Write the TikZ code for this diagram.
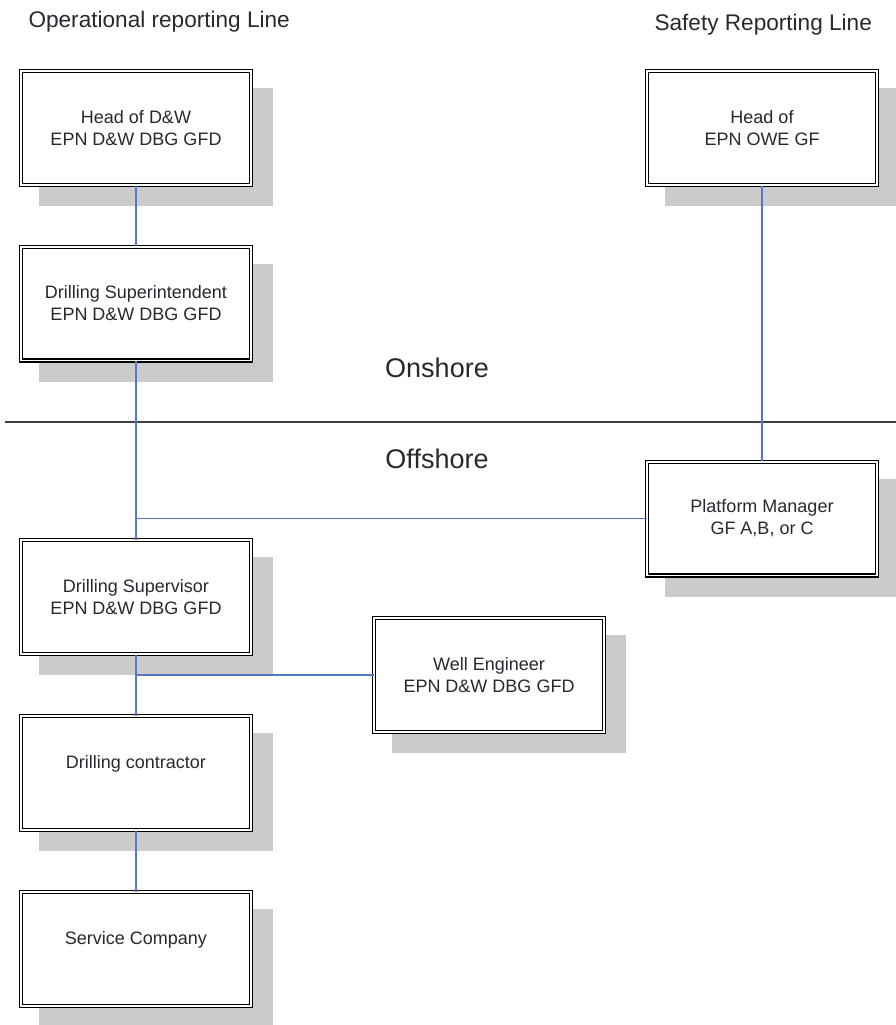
\documentclass[tikz,border=0pt]{standalone}
\usepackage{fontspec}
\setmainfont{Liberation Sans}
\usetikzlibrary{calc,shadows}
\definecolor{linkblue}{RGB}{84,122,196}
\definecolor{shadowgray}{RGB}{203,203,203}
\definecolor{textgray}{RGB}{40,40,48}
\def\orgfont{\fontsize{18}{22}\selectfont}
\def\titlefont{\fontsize{22.6}{27}\selectfont}
\def\zonefont{\fontsize{27}{32}\selectfont}
\tikzset{
	orgbox/.style={draw=black, line width=1.4pt, double=white, double distance=1.6pt, fill=white,
		minimum width=229.6pt, minimum height=113.6pt, inner sep=0pt, align=center,
		font=\orgfont, text=textgray,
		general shadow={fill=shadowgray, draw=shadowgray, line width=4.4pt, shadow xshift=19.5pt, shadow yshift=-19pt}},
	link/.style={draw=linkblue, line width=1.3pt},
	zonelabel/.style={anchor=base, font=\zonefont, text=textgray},
	linetitle/.style={anchor=base west, font=\titlefont, text=textgray}
}

\begin{document}
\begin{tikzpicture}[x=1pt, y=-1pt]
		%%%%% START %%%%%
		\useasboundingbox (0, 0) rectangle (896, 1025);
		
		\node[linetitle] (optitle) at (25, 28) {Operational reporting Line};
		\node[linetitle] (safetitle) at (651, 31) {Safety Reporting Line};
		
		\node[orgbox] (head) at (136, 128) {Head of D\&W\\EPN D\&W DBG GFD};
		\node[orgbox] (safety) at (762, 128) {Head of\\EPN OWE GF};
		\node[orgbox] (supt) at (136, 303.5) {Drilling Superintendent\\EPN D\&W DBG GFD};
		
		\node[zonelabel] (onshore) at (437, 377) {Onshore};
		\draw[line width=2pt, color=black!75] (5, 422) coordinate (sepleft) -- (896, 422) coordinate (sepright);
		\node[zonelabel] (offshore) at (437, 468) {Offshore};
		
		\node[orgbox] (platform) at (762, 518.5) {Platform Manager\\GF A,B, or C};
		\node[orgbox] (sup) at (136, 597) {Drilling Supervisor\\EPN D\&W DBG GFD};
		\node[orgbox] (well) at (489, 675) {Well Engineer\\EPN D\&W DBG GFD};
		\node[orgbox] (contr) at (136, 773) {Drilling contractor\\~};
		\node[orgbox] (service) at (136, 949) {Service Company\\~};
		
		\draw[link] (head) -- (supt);
		\draw[link] (supt) -- (sup);
		\draw[link] (safety) -- (platform);
		\draw[link] (supt.south |- platform.west) -- (platform.west);
		\draw[link] (sup) -- (contr);
		\draw[link] (sup.south |- well.west) -- (well.west);
		\draw[link] (contr) -- (service);
		
		%%%%% END %%%%%
	\end{tikzpicture}
\end{document}
